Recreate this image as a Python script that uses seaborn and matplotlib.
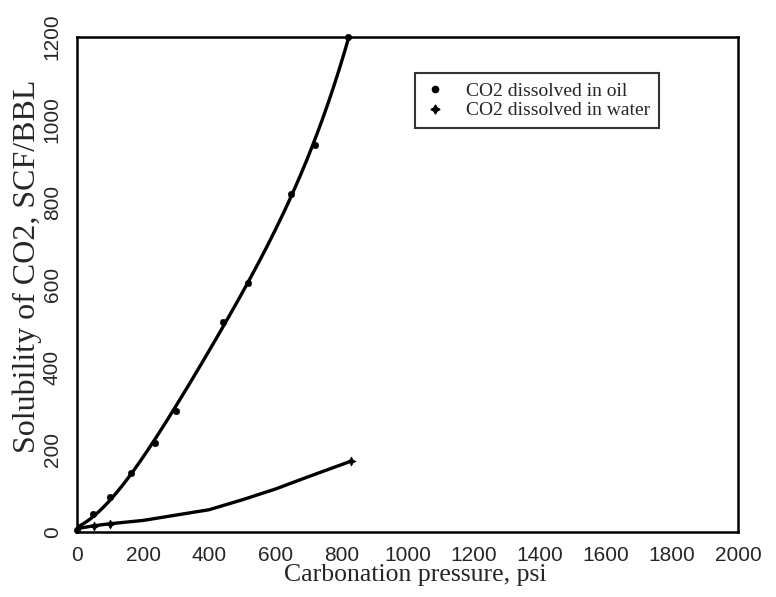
import numpy as np
import pandas as pd
import matplotlib
matplotlib.use("Agg")
import matplotlib.pyplot as plt
from matplotlib.ticker import MultipleLocator
from matplotlib.lines import Line2D
import seaborn as sns

# Measured solubility of CO2 in oil
oil_pressure = [0, 49, 101, 162, 235, 300, 441, 518, 647, 720, 821]
oil_solubility = [5, 43, 84, 144, 216, 293, 510, 604, 820, 938, 1200]

# CO2 dissolved in water (smoothed curve readings)
water_pressure = [0, 50, 100, 200, 300, 400, 500, 600, 700, 830]
water_solubility = [8, 15, 20, 28, 41, 54, 78, 104, 134, 172]
water_marked_pressure = [50, 100, 830]
water_marked_solubility = [15, 20, 172]

x_ticks = list(range(0, 2001, 200))
y_ticks = list(range(0, 1201, 200))

sns.set_theme(style="white")
plt.rcParams["font.family"] = ["Liberation Serif", "DejaVu Serif"]

fig = plt.figure(figsize=(7.76, 5.97), dpi=100)
ax = fig.add_axes([0.0992, 0.1089, 0.8518, 0.8291])

oil_df = pd.DataFrame({"p": oil_pressure, "s": oil_solubility})
# Polynomial trend through the oil measurements
coef = np.polyfit(oil_df["p"], oil_df["s"], 4)
p_fit = np.linspace(0, max(oil_pressure), 200)
fit_df = pd.DataFrame({"p": p_fit, "s": np.polyval(coef, p_fit)})

sns.lineplot(data=fit_df, x="p", y="s", ax=ax, color="black", lw=2.4,
             estimator=None, sort=False)
sns.scatterplot(data=oil_df, x="p", y="s", ax=ax, color="black", s=22,
                marker="o", edgecolor="black", zorder=5, clip_on=False)

water_df = pd.DataFrame({"p": water_pressure, "s": water_solubility})
sns.lineplot(data=water_df, x="p", y="s", ax=ax, color="black", lw=2.4,
             estimator=None, sort=False)
wm_df = pd.DataFrame({"p": water_marked_pressure, "s": water_marked_solubility})
sns.scatterplot(data=wm_df, x="p", y="s", ax=ax, color="black", s=40,
                marker=(4, 1, 0), edgecolor="black", zorder=5)

ax.set_xlim(0, 2000)
ax.set_ylim(0, 1200)
ax.set_xticks(x_ticks)
ax.set_yticks(y_ticks)
ax.xaxis.set_minor_locator(MultipleLocator(100))
ax.yaxis.set_minor_locator(MultipleLocator(100))
ax.tick_params(which="both", direction="in", top=False, right=False,
               color="black", width=1.6)
ax.tick_params(which="major", length=7)
ax.tick_params(which="minor", length=4)

for lab in ax.get_xticklabels() + ax.get_yticklabels():
    lab.set_fontfamily(["Liberation Sans", "DejaVu Sans"])
    lab.set_fontsize(15)
for lab in ax.get_yticklabels():
    lab.set_rotation(90)
    lab.set_va("center")
ax.tick_params(axis="x", pad=10)
ax.tick_params(axis="y", pad=11)

ax.set_xlabel("Carbonation pressure, psi", fontsize=18.5)
ax.xaxis.set_label_coords(0.512, -0.087)
ax.xaxis.label.set_va("center")
ax.set_ylabel("Solubility of CO2, SCF/BBL", fontsize=23)
ax.yaxis.set_label_coords(-0.0756, 0.537)
ax.yaxis.label.set_va("center")

for sp in ax.spines.values():
    sp.set_color("black")
    sp.set_linewidth(1.8)

handles = [
    Line2D([], [], ls="none", marker="o", color="black", markersize=4.5),
    Line2D([], [], ls="none", marker=(4, 1, 0), color="black", markersize=6.5),
]
leg = ax.legend(handles, ["CO2 dissolved in oil", "CO2 dissolved in water"],
                loc="upper left", bbox_to_anchor=(0.511, 0.927),
                borderaxespad=0.0, frameon=True, fancybox=False, fontsize=14,
                handletextpad=1.0, borderpad=0.45, labelspacing=0.12,
                handlelength=1.2)
leg.get_frame().set_edgecolor("black")
leg.get_frame().set_linewidth(1.5)

fig.savefig("out.png", dpi=100)
